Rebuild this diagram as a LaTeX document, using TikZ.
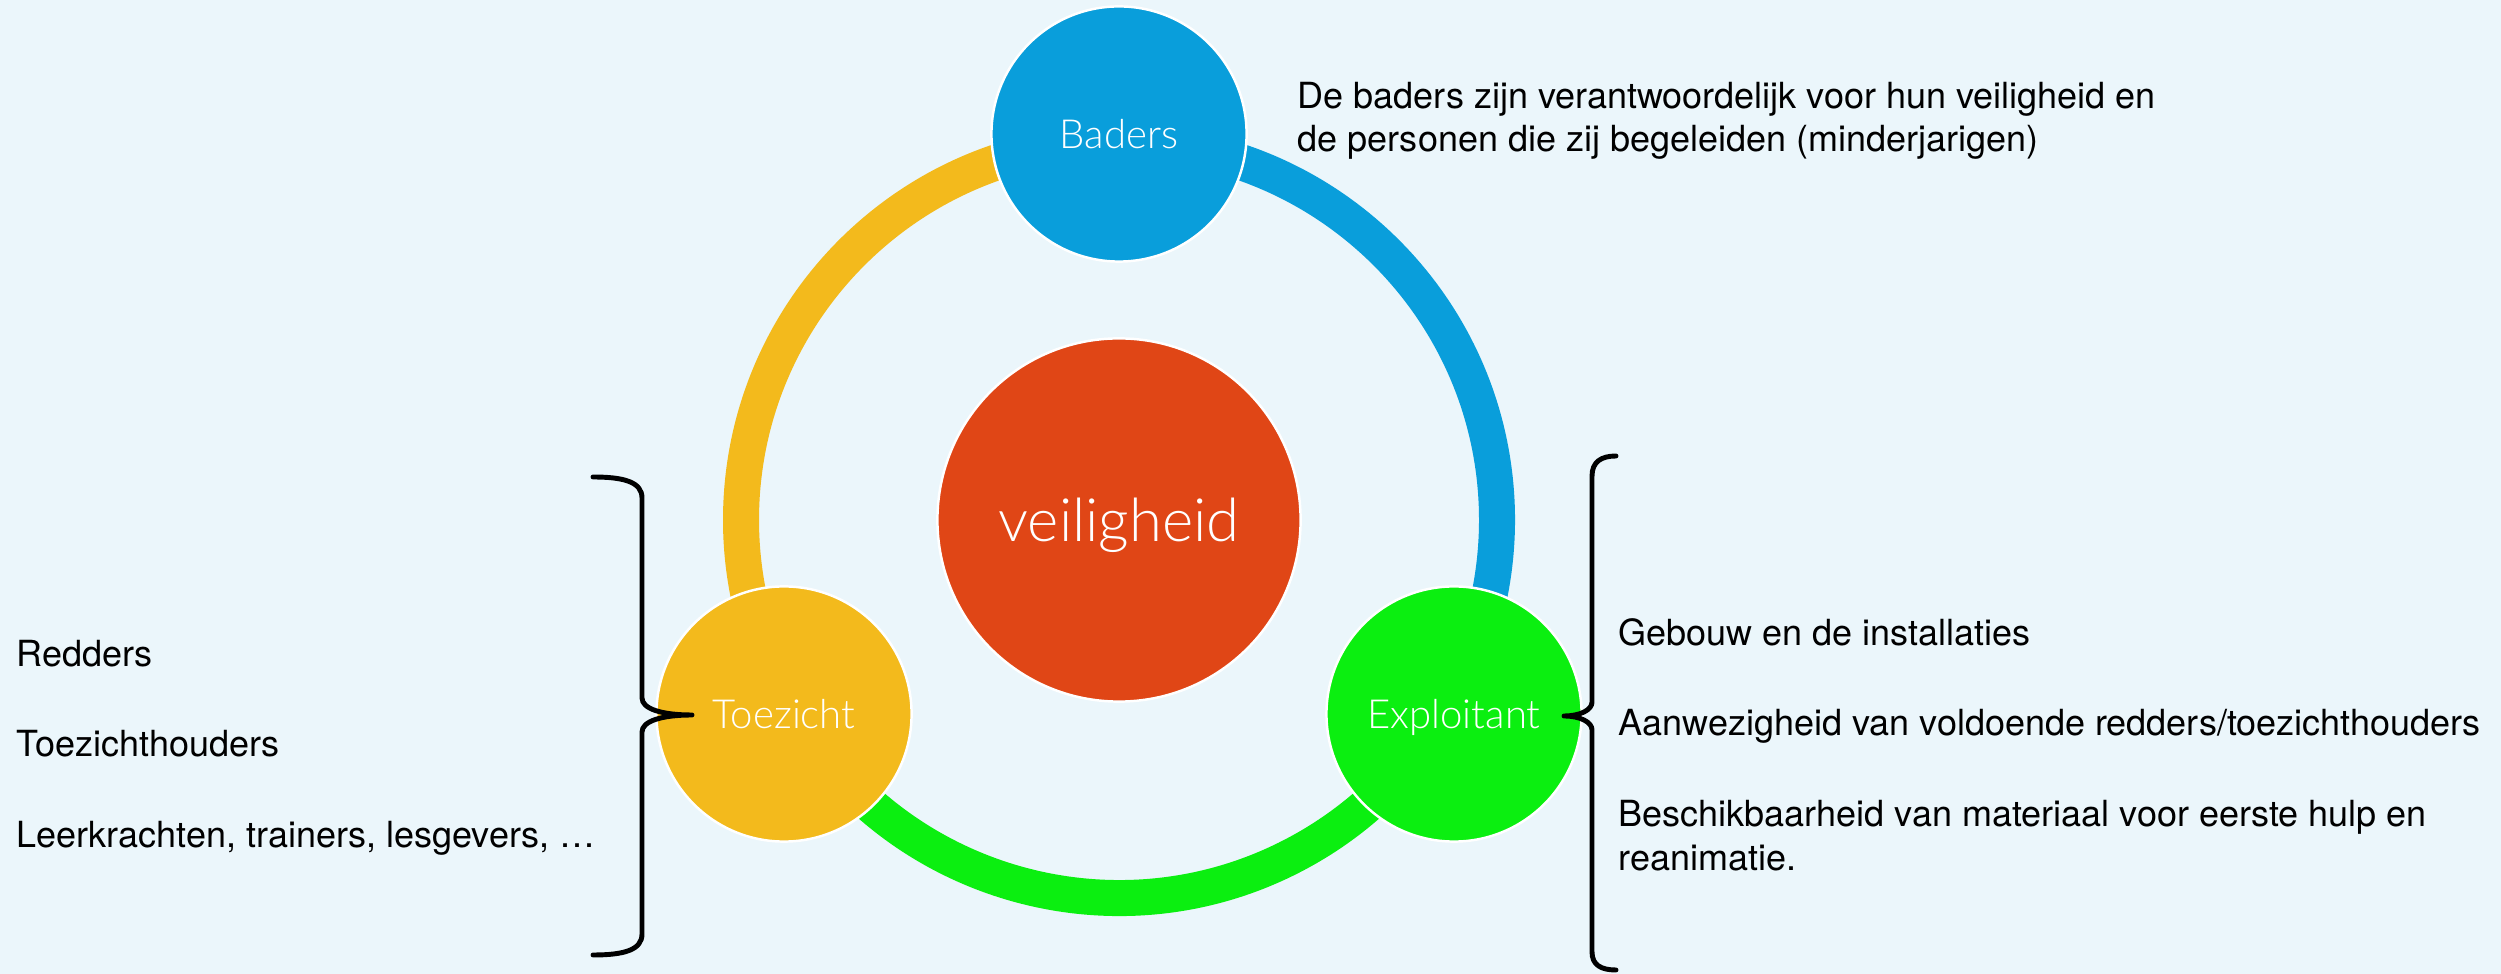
\documentclass[tikz,border=0pt]{standalone}
\usepackage{fontspec}
\setmainfont{TeX Gyre Heros}
\IfFontExistsTF{Lato Light}{\newfontfamily\lightfont{Lato Light}}{\newfontfamily\lightfont{TeX Gyre Heros}}
\definecolor{bg}{RGB}{235,246,251}
\definecolor{cblue}{RGB}{9,158,219}
\definecolor{corange}{RGB}{243,186,28}
\definecolor{cgreen}{RGB}{11,239,16}
\definecolor{cred}{RGB}{224,70,22}
\begin{document}
\begin{tikzpicture}[x=0.01cm,y=-0.01cm,
  ring/.style={line width=0.36cm},
  smallcirc/.style={circle, draw=white, line width=0.7pt, minimum size=2.55cm, inner sep=0pt,
    text=white, font=\lightfont\fontsize{11.4pt}{13pt}\selectfont, text height=8.2pt, text depth=0pt},
  bigcirc/.style={circle, draw=white, line width=0.7pt, minimum size=3.63cm, inner sep=0pt,
    text=white, font=\lightfont\fontsize{17pt}{20pt}\selectfont, text height=12.2pt, text depth=0pt},
  txt/.style={anchor=base west, inner sep=0pt, text=black, font=\fontsize{10.24pt}{12.5pt}\selectfont},
  bracestroke/.style={draw=black, line width=1.4pt, line cap=round, line join=round}]
\fill[bg] (0,0) rectangle (2501,974);
\useasboundingbox (0,0) rectangle (2501,974);
\coordinate (C) at (1119,520);
% ring arcs
\draw[ring, corange] (C) ++(270:378) arc[start angle=270, end angle=150, radius=378];
\draw[ring, cblue] (C) ++(270:378) arc[start angle=270, end angle=390, radius=378];
\draw[ring, cgreen] (C) ++(150:378) arc[start angle=150, end angle=30, radius=378];
% circles
\node[bigcirc, fill=cred] (veil) at (C) {veiligheid};
\node[smallcirc, fill=cblue] (baders) at (1119,134) {Baders};
\node[smallcirc, fill=corange] (toezicht) at (784,714) {Toezicht};
\node[smallcirc, fill=cgreen] (exploitant) at (1454,714) {Exploitant};
% top text
\node[txt] (t1) at (1297,109) {De baders zijn verantwoordelijk voor hun veiligheid en};
\node[txt] (t2) at (1297,152) {de personen die zij begeleiden (minderjarigen)};
% left text
\node[txt] (l1) at (16,667) {Redders};
\node[txt] (l2) at (16,757) {Toezichthouders};
\node[txt] (l3) at (16,847) {Leerkrachten, trainers, lesgevers, …};
% right text
\node[txt] (r1) at (1618,646) {Gebouw en de installaties};
\node[txt] (r2) at (1618,736) {Aanwezigheid van voldoende redders/toezichthouders};
\node[txt] (r3) at (1618,827) {Beschikbaarheid van materiaal voor eerste hulp en};
\node[txt] (r4) at (1618,871) {reanimatie.};
% left brace
\draw[bracestroke] (593,477) .. controls (624,477) and (642,482) .. (642,498)
  -- (642,698) .. controls (642,709) and (662,715) .. (692,715)
  .. controls (662,715) and (642,721) .. (642,732)
  -- (642,934) .. controls (642,950) and (624,955) .. (593,955);
% right brace
\draw[bracestroke] (1616,456) .. controls (1601,456) and (1592,462) .. (1592,476)
  -- (1592,702) .. controls (1592,710) and (1580,716) .. (1564,716)
  .. controls (1580,716) and (1592,722) .. (1592,730)
  -- (1592,952) .. controls (1592,965) and (1601,970) .. (1616,970);
\end{tikzpicture}
\end{document}
